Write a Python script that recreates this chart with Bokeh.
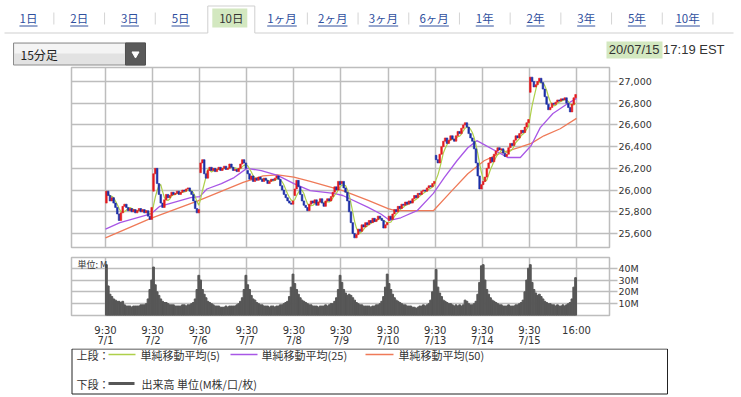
import numpy as np
import pandas as pd
from bokeh.plotting import figure
from bokeh.models import (Range1d, FixedTicker, NumeralTickFormatter, PrintfTickFormatter,
                          ColumnDataSource)
from bokeh.embed import file_html
from bokeh.resources import INLINE
from bokeh.core.properties import value

# ---------------- data ----------------
tab_labels = ["1日", "2日", "3日", "5日", "10日", "1ヶ月", "2ヶ月", "3ヶ月", "6ヶ月",
              "1年", "2年", "3年", "5年", "10年"]
active_tab = "10日"
interval_label = "15分足"
stamp_date = "20/07/15"
stamp_time = "17:19 EST"

day_labels = ["7/1", "7/2", "7/6", "7/7", "7/8", "7/9", "7/10", "7/13", "7/14", "7/15"]
open_time = "9:30"
close_time = "16:00"
bars_per_day = 26

day_open = [25880, 25990, 26160, 26180, 25950, 26060, 25720, 26320, 26050, 26900]

close_0701 = [25990, 25950, 25900, 25930, 25880, 25840, 25780, 25720, 25790, 25850, 25870, 25840, 25810,
              25830, 25800, 25820, 25790, 25810, 25830, 25800, 25820, 25790, 25810, 25760, 25730, 25840]
close_0702 = [26150, 26200, 26060, 25960, 25880, 25840, 25910, 25960, 25930, 25950, 25980, 25960, 25970,
              25990, 25960, 25980, 26000, 25990, 26010, 26020, 25990, 25960, 25900, 25830, 25790, 25820]
close_0706 = [26250, 26280, 26150, 26110, 26180, 26210, 26180, 26200, 26170, 26190, 26210, 26180, 26200,
              26220, 26190, 26200, 26240, 26210, 26180, 26190, 26170, 26200, 26240, 26280, 26250, 26200]
close_0707 = [26150, 26100, 26130, 26080, 26110, 26090, 26120, 26100, 26080, 26110, 26090, 26060, 26080,
              26100, 26090, 26110, 26130, 26100, 26040, 26000, 25960, 25930, 25900, 25880, 25870, 25900]
close_0708 = [26010, 26090, 26030, 25960, 25900, 25860, 25840, 25810, 25870, 25900, 25880, 25910, 25860,
              25890, 25920, 25880, 25850, 25900, 25920, 25900, 25940, 25980, 26030, 26000, 26080, 26050]
close_0709 = [26080, 26020, 25980, 25900, 25800, 25700, 25600, 25560, 25590, 25640, 25620, 25680, 25660,
              25700, 25680, 25720, 25700, 25740, 25710, 25730, 25760, 25740, 25720, 25650, 25680, 25700]
close_0710 = [25760, 25730, 25780, 25820, 25800, 25850, 25830, 25870, 25860, 25890, 25870, 25900, 25880,
              25920, 25950, 25930, 25970, 25960, 25990, 26000, 25990, 26020, 26040, 26030, 26060, 26080]
close_0713 = [26280, 26250, 26330, 26400, 26450, 26480, 26430, 26460, 26500, 26470, 26450, 26500, 26540,
              26520, 26570, 26600, 26620, 26580, 26520, 26480, 26450, 26380, 26250, 26130, 26010, 26050]
close_0714 = [26080, 26120, 26200, 26250, 26300, 26260, 26330, 26360, 26390, 26370, 26380, 26340, 26310,
              26330, 26390, 26430, 26410, 26460, 26500, 26480, 26520, 26550, 26530, 26580, 26620, 26650]
close_0715 = [27040, 27000, 26950, 26970, 27000, 27030, 26990, 26930, 26860, 26790, 26740, 26760, 26800,
              26790, 26810, 26830, 26820, 26840, 26830, 26850, 26800, 26760, 26720, 26790, 26850, 26880]

vol_0701 = [43, 25, 18, 16, 14, 13, 12, 12, 11, 12, 9, 8, 8, 8, 7, 8, 8, 8, 8, 9, 9, 9, 10, 14, 22, 30]
vol_0702 = [41, 26, 20, 17, 14, 12, 11, 11, 10, 9, 9, 9, 8, 8, 8, 8, 9, 9, 8, 9, 9, 10, 11, 14, 22, 34]
vol_0706 = [30, 22, 18, 15, 12, 11, 10, 9, 8, 8, 8, 7, 7, 7, 8, 7, 8, 8, 8, 8, 9, 10, 12, 15, 22, 34]
vol_0707 = [26, 22, 17, 14, 13, 11, 10, 9, 9, 8, 8, 8, 7, 8, 8, 7, 8, 8, 9, 9, 10, 11, 12, 16, 24, 35]
vol_0708 = [27, 22, 18, 15, 13, 12, 11, 10, 9, 9, 8, 8, 8, 7, 8, 8, 8, 9, 8, 9, 10, 10, 12, 15, 22, 34]
vol_0709 = [28, 22, 19, 17, 18, 17, 15, 13, 11, 10, 9, 9, 8, 8, 8, 8, 7, 8, 8, 9, 9, 10, 12, 16, 24, 35]
vol_0710 = [27, 22, 18, 15, 13, 12, 11, 10, 9, 9, 8, 8, 8, 7, 7, 6, 7, 8, 8, 9, 8, 9, 10, 13, 20, 30]
vol_0713 = [39, 24, 19, 16, 13, 12, 11, 10, 10, 9, 8, 9, 8, 9, 8, 9, 13, 12, 10, 9, 9, 10, 12, 18, 28, 42]
vol_0714 = [43, 30, 22, 18, 15, 13, 12, 11, 10, 9, 9, 8, 8, 8, 9, 8, 8, 8, 9, 9, 10, 11, 13, 20, 30, 40]
vol_0715 = [43, 28, 22, 19, 17, 18, 16, 14, 12, 11, 10, 10, 9, 9, 8, 9, 8, 8, 9, 8, 9, 10, 11, 14, 24, 32]

# moving averages (25, 50) at bar positions
sma25_pos = [0, 8, 25, 30, 47, 52, 56, 64, 71, 78, 86, 95, 104, 113, 126, 131, 145, 152, 157, 163, 172,
             181, 187, 194, 200, 205, 222, 229, 235, 240, 247, 255, 260]
sma25_val = [25640, 25700, 25780, 25850, 25930, 25940, 26010, 26060, 26115, 26200, 26180, 26135, 26060,
             25995, 25970, 25950, 25840, 25780, 25720, 25745, 25810, 25970, 26115, 26270, 26390, 26455,
             26300, 26300, 26410, 26575, 26705, 26795, 26845]
sma50_pos = [0, 25, 51, 76, 87, 95, 104, 113, 131, 145, 156, 160, 181, 191, 200, 209, 218, 228, 235, 242,
             251, 260]
sma50_val = [25560, 25740, 25900, 26070, 26130, 26140, 26120, 26080, 25995, 25905, 25830, 25810, 25810,
             25990, 26150, 26270, 26340, 26390, 26430, 26500, 26565, 26660]

price_ticks = [25600, 25800, 26000, 26200, 26400, 26600, 26800, 27000]
vol_ticks = [10, 20, 30, 40]
vol_unit_label = "単位: M"
legend_upper_title = "上段："
legend_lower_title = "下段："
legend_upper = ["単純移動平均(5)", "単純移動平均(25)", "単純移動平均(50)"]
legend_lower = "出来高 単位(M株/口/枚)"

# ---------------- styling ----------------
W = 741
FONT_NUM = "DejaVu Sans"
FONT_JP = "Noto Sans CJK JP"
GRID = "#bdbdbd"
PANEL = "#cfcfcf"
RED = "#e41b1f"
BLUE = "#1b2ea6"
C5, C25, C50 = "#aed04a", "#a857e6", "#ef7a58"
VOLC = "#575757"
LINK = "#30509e"
TXT = "#333333"

# ---------------- derived series ----------------
daily_closes = [close_0701, close_0702, close_0706, close_0707, close_0708,
                close_0709, close_0710, close_0713, close_0714, close_0715]
daily_vols = [vol_0701, vol_0702, vol_0706, vol_0707, vol_0708,
              vol_0709, vol_0710, vol_0713, vol_0714, vol_0715]
closes = np.array(sum(daily_closes, []), dtype=float)
opens = []
for o, cl in zip(day_open, daily_closes):
    opens += [o] + cl[:-1]
opens = np.array(opens, dtype=float)
vols = np.array(sum(daily_vols, []), dtype=float)
n = len(closes)
xs = np.arange(n) + 0.5
src = ColumnDataSource(dict(
    x=xs, top=np.maximum(opens, closes), bottom=np.minimum(opens, closes),
    color=np.where(closes >= opens, RED, BLUE), vol=vols))
sma5 = pd.Series(closes).rolling(5, min_periods=1).mean().values

day_ticks = [d * bars_per_day for d in range(len(day_labels))] + [len(day_labels) * bars_per_day]
x_labels = {d * bars_per_day: f"{open_time}\n{lab}" for d, lab in enumerate(day_labels)}
x_labels[len(day_labels) * bars_per_day] = close_time

xr = Range1d(-18.77, 278.22)
BL, BR = 71, W - 609


def plain(f):
    f.grid.visible = False
    f.outline_line_color = None


def style_plot(f):
    f.outline_line_color = GRID
    f.outline_line_width = 1.5
    f.grid.grid_line_color = GRID
    f.grid.grid_line_width = 1.5
    f.yaxis.axis_line_color = None
    f.yaxis.major_tick_out = 8
    f.yaxis.major_tick_in = 0
    f.yaxis.minor_tick_line_color = None
    f.yaxis.major_tick_line_color = GRID
    f.yaxis.major_tick_line_width = 1.5
    f.yaxis.major_label_text_font = FONT_NUM
    f.yaxis.major_label_text_font_size = "9.5px"
    f.yaxis.major_label_text_color = TXT
    f.yaxis.major_label_standoff = 1


# ---------------- header ----------------
HH = 66
hdr = figure(width=W, height=HH, x_range=Range1d(0, W), y_range=Range1d(HH, 0),
             x_axis_location=None, y_axis_location=None, min_border=0,
             toolbar_location=None, output_backend="svg", tools="")
plain(hdr)

tab_x0, tab_step = 28.0, 50.7
centers = [tab_x0 + i * tab_step for i in range(len(tab_labels))]
ai = tab_labels.index(active_tab)
tab_half = 23.5
hdr.quad(left=[centers[ai] - 19], right=[centers[ai] + 16], top=[8], bottom=[27],
         fill_color="#d3e8c0", line_color=None)
hdr.multi_line(xs=[[4, centers[ai] - tab_half], [centers[ai] + tab_half, 733],
                   [centers[ai] - tab_half, centers[ai] - tab_half, centers[ai] + tab_half, centers[ai] + tab_half]],
               ys=[[32.5, 32.5], [32.5, 32.5], [32.5, 5.5, 5.5, 32.5]],
               line_color=PANEL, line_width=1)


def text_w(s, fs):
    return sum(0.57 * fs if ch.isascii() else fs for ch in s)


FS_TAB = 11.5
in_x = [c for i, c in enumerate(centers) if i != ai]
in_t = [t for i, t in enumerate(tab_labels) if i != ai]
hdr.text(x=in_x, y=[17.5] * len(in_x), text=in_t, text_font=value(FONT_JP),
         text_font_size=f"{FS_TAB}px", text_color=LINK, text_align="center", text_baseline="middle")
hdr.segment(x0=[c - text_w(t, FS_TAB) / 2 for c, t in zip(in_x, in_t)],
            x1=[c + text_w(t, FS_TAB) / 2 for c, t in zip(in_x, in_t)],
            y0=[25.5] * len(in_x), y1=[25.5] * len(in_x), line_color=LINK, line_width=1)
hdr.text(x=[centers[ai]], y=[17.5], text=[active_tab], text_font=value(FONT_JP),
         text_font_size=f"{FS_TAB}px", text_color=TXT, text_align="center", text_baseline="middle")
sep_x = [(centers[i] + centers[i + 1]) / 2 for i in range(len(centers) - 1) if i != ai and i + 1 != ai]
sep_x.append(centers[-1] + tab_step / 2)
hdr.segment(x0=sep_x, x1=sep_x, y0=[12] * len(sep_x), y1=[24] * len(sep_x), line_color="#d4d4d4")

# interval selector
hdr.quad(left=[13], right=[145], top=[42.5], bottom=[64.5], fill_color="#e2e2e2", line_color="#8c8c8c")
hdr.quad(left=[14], right=[124], top=[43.5], bottom=[53], fill_color="#f4f4f4", line_color=None)
hdr.quad(left=[125], right=[145], top=[42.5], bottom=[64.5], fill_color="#5a5a5a", line_color="#505050")
hdr.scatter(x=[135], y=[53.5], marker="inverted_triangle", size=7, color="white")
hdr.text(x=[20], y=[53.5], text=[interval_label], text_font=value(FONT_JP), text_font_size="12px",
         text_color="#222222", text_align="left", text_baseline="middle")

# timestamp
hdr.quad(left=[606], right=[662], top=[41], bottom=[58], fill_color="#d3e8c0", line_color=None)
hdr.text(x=[724], y=[48.5], text=[f"{stamp_date} {stamp_time}"], text_font=value("Liberation Sans"),
         text_font_size="13px", text_color=TXT, text_align="right", text_baseline="middle")

# ---------------- price chart ----------------
pp = figure(width=W, height=252 - HH, x_range=xr, y_range=Range1d(25471.1, 27128.9),
            x_axis_location=None, y_axis_location="right",
            min_border_left=BL, min_border_right=BR, min_border_top=67 - HH, min_border_bottom=5,
            toolbar_location=None, output_backend="svg", tools="")
style_plot(pp)
pp.xgrid.ticker = FixedTicker(ticks=day_ticks)
pp.yaxis.ticker = FixedTicker(ticks=price_ticks)
pp.ygrid.ticker = FixedTicker(ticks=price_ticks)
pp.yaxis.formatter = NumeralTickFormatter(format="0,0")
pp.line(sma50_pos, sma50_val, line_color=C50, line_width=1.3)
pp.line(sma25_pos, sma25_val, line_color=C25, line_width=1.3)
pp.line(xs, sma5, line_color=C5, line_width=1.2)
pp.vbar(x="x", width=0.9, top="top", bottom="bottom", fill_color="color", line_color="color",
        line_width=0.6, source=src)

# ---------------- volume chart ----------------
vp = figure(width=W, height=96, x_range=xr, y_range=Range1d(0, 49.06),
            x_axis_location="below", y_axis_location="right",
            min_border_left=BL, min_border_right=BR, min_border_top=5, min_border_bottom=26,
            toolbar_location=None, output_backend="svg", tools="")
style_plot(vp)
vp.xgrid.ticker = FixedTicker(ticks=day_ticks)
vp.xaxis.ticker = FixedTicker(ticks=day_ticks)
vp.xaxis.major_label_overrides = x_labels
vp.xaxis.axis_line_color = None
vp.xaxis.major_tick_line_color = None
vp.xaxis.minor_tick_line_color = None
vp.xaxis.major_label_standoff = 3
vp.xaxis.major_label_text_font = FONT_NUM
vp.xaxis.major_label_text_font_size = "10px"
vp.xaxis.major_label_text_color = TXT
vp.xaxis.major_label_text_line_height = 0.95
vp.yaxis.ticker = FixedTicker(ticks=vol_ticks)
vp.ygrid.ticker = FixedTicker(ticks=vol_ticks)
vp.yaxis.formatter = PrintfTickFormatter(format="%dM")
vp.vbar(x="x", width=1.0, top="vol", bottom=0, color=VOLC, source=src)
vp.text(x=[-15.5], y=[43.5], text=[vol_unit_label], text_font=value(FONT_JP), text_font_size="9px",
        text_color=TXT, text_align="left", text_baseline="middle")

# ---------------- legend ----------------
lg = figure(width=W, height=49, x_range=Range1d(0, W), y_range=Range1d(397, 348),
            x_axis_location=None, y_axis_location=None, min_border=0,
            toolbar_location=None, output_backend="svg", tools="")
plain(lg)
lg.quad(left=[71.5], right=[667], top=[348.5], bottom=[393.5], fill_color=None, line_color="#222222",
        line_width=1)
row1, row2 = 354, 383
FS_LG = "11px"
lg.text(x=[76, 76], y=[row1, row2], text=[legend_upper_title, legend_lower_title],
        text_font=value(FONT_JP), text_font_size=FS_LG, text_color=TXT, text_baseline="middle")
lg.segment(x0=[108, 230, 365], x1=[135, 257, 393], y0=[row1] * 3, y1=[row1] * 3,
           line_color=[C5, C25, C50], line_width=1.5)
lg.text(x=[140, 261, 398], y=[row1] * 3, text=legend_upper, text_font=value(FONT_JP),
        text_font_size=FS_LG, text_color=TXT, text_baseline="middle")
lg.segment(x0=[108], x1=[134], y0=[row2], y1=[row2], line_color=VOLC, line_width=3)
lg.text(x=[141], y=[row2], text=[legend_lower], text_font=value(FONT_JP), text_font_size=FS_LG,
        text_color=TXT, text_baseline="middle")

open("out.html", "w").write(file_html([hdr, pp, vp, lg], INLINE))
